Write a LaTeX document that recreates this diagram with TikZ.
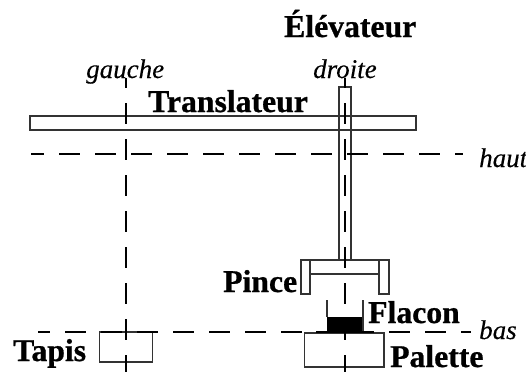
\documentclass[tikz,border=0pt]{standalone}
\usepackage{fontspec}
\setmainfont{Liberation Serif}[BoldFeatures={FakeBold=0.8},ItalicFeatures={FakeBold=0.3}]
\tikzset{
  axe/.style={line width=1.8pt,dash pattern=on 21pt off 15pt},
  piece/.style={draw=black!80,line width=1.2pt},
  nom/.style={anchor=base west,inner sep=0pt,font=\fontsize{31.7}{32}\selectfont\bfseries},
  lieu/.style={anchor=base west,inner sep=0pt,font=\fontsize{27}{28}\selectfont\itshape}
}
\begin{document}
\begin{tikzpicture}[x=1pt,y=-1pt]
    \useasboundingbox (0,0) rectangle (526,372);
    % axes
    \coordinate (gh) at (126,78);
    \coordinate (gb) at (126,372);
    \coordinate (dh) at (345,78);
    \coordinate (db) at (345,372);
    \coordinate (hg) at (31,154);
    \coordinate (hd) at (463,154);
    \coordinate (bg) at (38,332);
    \coordinate (bd) at (471,332);
    % pieces
    \draw[piece] (30,116) rectangle (416,130);
    \draw[piece] (339,87) rectangle (351,260);
    \draw[piece] (301,260) rectangle (310,294);
    \draw[piece] (379,260) rectangle (389,294);
    \draw[piece] (310,260) rectangle (379,274);
    \draw[piece] (99.5,332) rectangle (152.5,362);
    \draw[piece] (304.5,333) rectangle (384,367);
    % flacon
    \fill (327,317) rectangle (363,332);
    \fill (316,331) rectangle (373,333);
    \draw[piece] (327,300) -- (327,317);
    \draw[piece] (363,300) -- (363,332);
    \draw[axe,dash phase=11pt] (gh) -- (gb);
    \draw[axe,dash phase=11pt] (dh) -- (db);
    \draw[axe,dash phase=8pt] (hg) -- (hd);
    \draw[axe,dash phase=9pt] (bg) -- (bd);
    % textes
    \node[nom] (elevateur) at (284,37) {Élévateur};
    \node[nom] (translateur) at (148,112) {Translateur};
    \node[nom] (pince) at (223,292) {Pince};
    \node[nom] (flacon) at (368,323) {Flacon};
    \node[nom] (palette) at (390,367) {Palette};
    \node[nom] (tapis) at (13,361) {Tapis};
    \node[lieu] (gauche) at (86,78) {gauche};
    \node[lieu] (droite) at (313,78) {droite};
    \node[lieu] (haut) at (479,167) {haut};
    \node[lieu] (bas) at (479,339) {bas};
  \end{tikzpicture}
\end{document}
